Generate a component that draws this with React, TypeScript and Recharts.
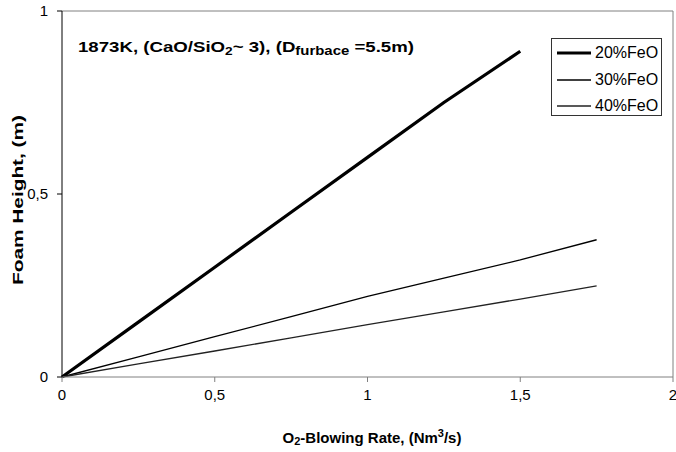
import { Legend, Line, LineChart, ReferenceLine, XAxis, YAxis } from 'recharts'

const blowingRate = [0, 0.25, 0.5, 0.75, 1, 1.25, 1.5, 1.75]
const feo20 = [0, 0.15, 0.3, 0.45, 0.6, 0.75, 0.89, null]
const feo30 = [0, 0.055, 0.11, 0.165, 0.22, 0.27, 0.32, 0.375]
const feo40 = [0, 0.036, 0.071, 0.107, 0.143, 0.178, 0.213, 0.249]
const seriesNames = ['20%FeO', '30%FeO', '40%FeO']
const xTicks = [0, 0.5, 1, 1.5, 2]
const yTicks = [0, 0.5, 1]

const data = blowingRate.map((rate, i) => ({
  rate,
  feo20: feo20[i],
  feo30: feo30[i],
  feo40: feo40[i],
}))

const font = '"Liberation Sans", Arial, sans-serif'
const comma = (v: number) => String(v).replace('.', ',')
const widths = [3.2, 1.3, 1.3]

function LegendBox({ payload }: { payload?: any[] }) {
  return (
    <div style={{ border: '1px solid #333', width: 111, height: 78, boxSizing: 'border-box', background: '#fff', paddingTop: 1 }}>
      {(payload || []).map((p, i) => (
        <div key={p.value} style={{ display: 'flex', alignItems: 'center', height: 26.5 }}>
          <svg width={40} height={10} style={{ marginLeft: 4 }}>
            <line x1={1} y1={5} x2={35} y2={5} stroke={p.color} strokeWidth={widths[i]} />
          </svg>
          <span style={{ fontFamily: font, fontSize: 16, color: '#000', marginLeft: -1 }}>{p.value}</span>
        </div>
      ))}
    </div>
  )
}

export default function App() {
  return (
    <div style={{ position: 'absolute', left: 0, top: 0, width: 676, height: 452, background: '#fff', fontFamily: font }}>
      <LineChart width={676} height={452} data={data} margin={{ top: 11, right: 3, bottom: 0, left: 0 }}>
        <XAxis
          dataKey="rate"
          type="number"
          domain={[0, 2]}
          ticks={xTicks}
          tickFormatter={comma}
          height={75}
          tickSize={5}
          tickMargin={7}
          stroke="#808080"
          tick={{ fill: '#000', fontSize: 15, fontFamily: font }}
          interval={0}
        />
        <YAxis
          type="number"
          domain={[0, 1]}
          ticks={yTicks}
          tickFormatter={comma}
          width={62}
          tickSize={5}
          tickMargin={9}
          stroke="#000"
          tick={{ fill: '#000', fontSize: 15, fontFamily: font }}
        />
        <ReferenceLine y={1} stroke="#808080" strokeWidth={1} />
        <ReferenceLine x={2} stroke="#808080" strokeWidth={1} />
        <Line dataKey="feo20" name={seriesNames[0]} stroke="#000" strokeWidth={widths[0]} dot={false} isAnimationActive={false} />
        <Line dataKey="feo30" name={seriesNames[1]} stroke="#000" strokeWidth={widths[1]} dot={false} isAnimationActive={false} />
        <Line dataKey="feo40" name={seriesNames[2]} stroke="#222" strokeWidth={widths[2]} dot={false} isAnimationActive={false} />
        <Legend
          content={<LegendBox />}
          wrapperStyle={{ position: 'absolute', left: 551, top: 38, width: 111, height: 0, overflow: 'visible' }}
        />
      </LineChart>
      <svg width={676} height={452} style={{ position: 'absolute', left: 0, top: 0, pointerEvents: 'none' }}>
        <text x={78} y={52} fontFamily={font} fontSize={15} fontWeight="bold" fill="#000" textLength={336} lengthAdjust="spacingAndGlyphs">
          1873K, (CaO/SiO<tspan fontSize={11} dy={3}>2</tspan>
          <tspan dy={-3}>~ 3), (D</tspan>
          <tspan fontSize={12} dy={3}>furbace</tspan>
          <tspan dy={-3}> =5.5m)</tspan>
        </text>
        <text x={372} y={443} textAnchor="middle" fontFamily={font} fontSize={15} fontWeight="bold" fill="#000">
          O<tspan fontSize={11} dy={2}>2</tspan>
          <tspan dy={-2}>-Blowing Rate, (Nm</tspan>
          <tspan fontSize={11} dy={-6}>3</tspan>
          <tspan dy={6}>/s)</tspan>
        </text>
        <text x={23} y={200} transform="rotate(-90, 23, 200)" textAnchor="middle" fontFamily={font} fontSize={15} fontWeight="bold" fill="#000" textLength={170} lengthAdjust="spacingAndGlyphs">
          Foam Height, (m)
        </text>
      </svg>
    </div>
  )
}
